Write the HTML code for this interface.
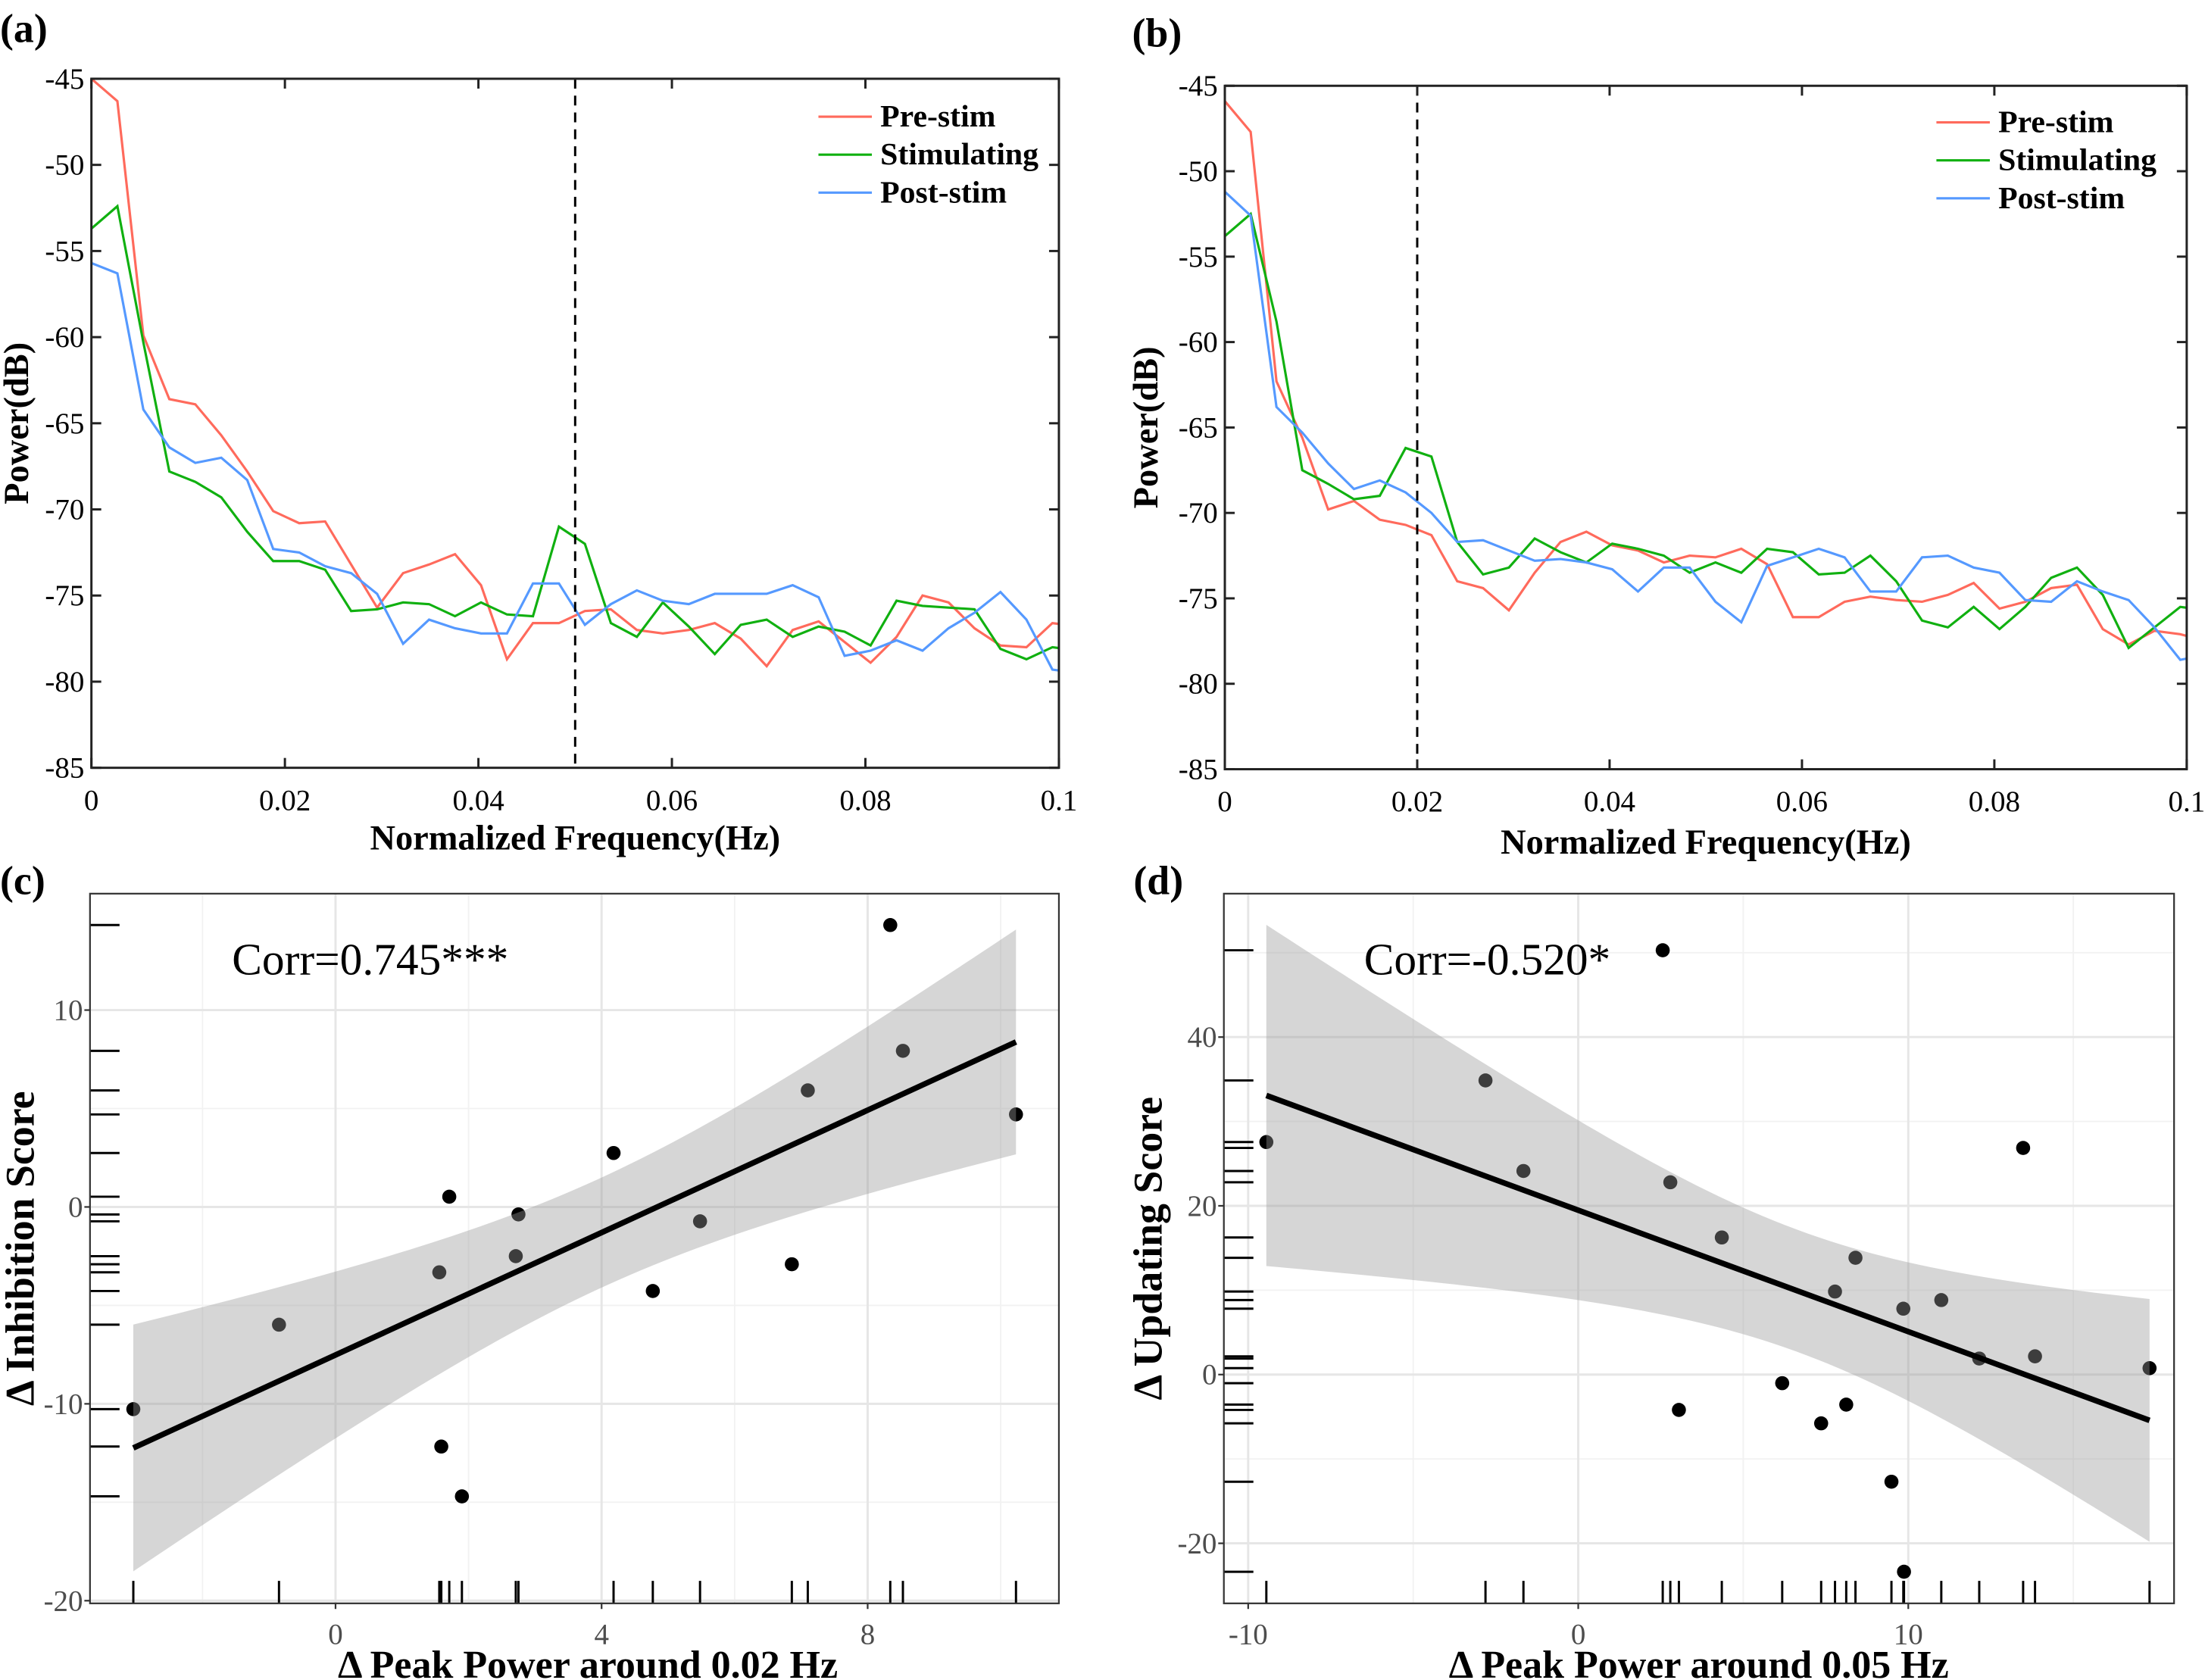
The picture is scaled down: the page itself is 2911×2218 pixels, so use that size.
<!DOCTYPE html>
<html><head><meta charset="utf-8"><style>
html,body{margin:0;padding:0;background:#fff;}
svg{display:block;}
text{font-family:"Liberation Serif",serif;}
</style></head><body>
<svg id="fig" width="2911" height="2218" viewBox="0 0 1568 1194.7" preserveAspectRatio="none" xmlns="http://www.w3.org/2000/svg">
<rect x="0" y="0" width="1568" height="1195" fill="#fff"/>
<text x="0" y="30" font-size="29" font-weight="bold">(a)</text>
<text x="805" y="33" font-size="29" font-weight="bold">(b)</text>
<text x="0" y="636" font-size="29" font-weight="bold">(c)</text>
<text x="806" y="636" font-size="29" font-weight="bold">(d)</text>
</svg>
<script>
const NS='http://www.w3.org/2000/svg';
const svg=document.getElementById('fig');
// ---- data: panel (a) ----
const freqStep=0.1/37.25;
const aPre=[-45,-46.3,-59.9,-63.6,-63.9,-65.7,-67.8,-70.1,-70.8,-70.7,-73.2,-75.7,-73.7,-73.2,-72.6,-74.4,-78.7,-76.6,-76.6,-75.9,-75.8,-77.0,-77.2,-77.0,-76.6,-77.5,-79.1,-77.0,-76.5,-77.7,-78.9,-77.4,-75.0,-75.4,-76.9,-77.9,-78.0,-76.6,-76.8];
const aStim=[-53.7,-52.4,-60.3,-67.8,-68.4,-69.3,-71.3,-73.0,-73.0,-73.5,-75.9,-75.8,-75.4,-75.5,-76.2,-75.4,-76.1,-76.2,-71.0,-72.0,-76.6,-77.4,-75.4,-76.8,-78.4,-76.7,-76.4,-77.4,-76.8,-77.1,-77.9,-75.3,-75.6,-75.7,-75.8,-78.1,-78.7,-78.0,-78.2];
const aPost=[-55.7,-56.3,-64.2,-66.4,-67.3,-67.0,-68.3,-72.3,-72.5,-73.3,-73.7,-74.9,-77.8,-76.4,-76.9,-77.2,-77.2,-74.3,-74.3,-76.7,-75.5,-74.7,-75.3,-75.5,-74.9,-74.9,-74.9,-74.4,-75.1,-78.5,-78.2,-77.6,-78.2,-76.9,-76.0,-74.8,-76.4,-79.3,-79.5];
// ---- data: panel (b) ----
const bPre=[-45.9,-47.7,-62.3,-65.6,-69.8,-69.3,-70.4,-70.7,-71.3,-74.0,-74.4,-75.7,-73.5,-71.7,-71.1,-71.9,-72.2,-72.9,-72.5,-72.6,-72.1,-73.0,-76.1,-76.1,-75.2,-74.9,-75.1,-75.2,-74.8,-74.1,-75.6,-75.2,-74.4,-74.2,-76.8,-77.7,-76.9,-77.1,-77.5];
const bStim=[-53.8,-52.5,-58.8,-67.5,-68.3,-69.2,-69.0,-66.2,-66.7,-71.7,-73.6,-73.2,-71.5,-72.3,-72.9,-71.8,-72.1,-72.5,-73.5,-72.9,-73.5,-72.1,-72.3,-73.6,-73.5,-72.5,-74.0,-76.3,-76.7,-75.5,-76.8,-75.5,-73.8,-73.2,-74.8,-77.9,-76.7,-75.5,-75.7];
const bPost=[-51.2,-52.6,-63.8,-65.3,-67.1,-68.6,-68.1,-68.8,-70.0,-71.7,-71.6,-72.2,-72.8,-72.7,-72.9,-73.3,-74.6,-73.2,-73.2,-75.2,-76.4,-73.1,-72.6,-72.1,-72.6,-74.6,-74.6,-72.6,-72.5,-73.2,-73.5,-75.1,-75.2,-74.0,-74.6,-75.1,-76.7,-78.6,-78.3];
const psdYTicks=[-45,-50,-55,-60,-65,-70,-75,-80,-85];
const psdXTicks=[0,0.02,0.04,0.06,0.08,0.1];
const psdXLabels=['0','0.02','0.04','0.06','0.08','0.1'];
const legendNames=['Pre-stim','Stimulating','Post-stim'];
// ---- data: panel (c) ----
const cX=[-3.04,-0.85,1.56,1.59,1.71,1.90,2.71,2.75,4.18,4.77,5.48,6.86,7.10,8.34,8.53,10.23];
const cY=[-10.27,-5.98,-3.32,-12.17,0.52,-14.7,-2.5,-0.38,2.74,-4.27,-0.73,-2.91,5.92,14.32,7.93,4.70];
const cXTicks=[0,4,8];
const cYTicks=[10,0,-10,-20];
const cXMinor=[-2,2,6,10];
const cYMinor=[5,-5,-15];
// ---- data: panel (d) ----
const dX=[-9.45,-2.81,-1.66,2.56,2.79,3.05,4.35,6.18,7.36,7.78,8.12,8.40,9.49,9.85,9.87,11.0,12.15,13.48,13.84,17.31];
const dY=[27.56,34.86,24.13,50.29,22.79,-4.19,16.25,-1.02,-5.78,9.84,-3.56,13.84,-12.70,7.81,-23.37,8.83,1.90,26.86,2.16,0.76];
const dXTicks=[-10,0,10];
const dYTicks=[40,20,0,-20];
const dXMinor=[-5,5,15];
const dYMinor=[50,30,10,-10];

function el(tag,parent){const e=document.createElementNS(NS,tag);(parent||svg).appendChild(e);return e;}
function set(e,o){for(const k in o)e.setAttribute(k,o[k]);return e;}

function psdPanel(id,box,dashX,series,legY,titleX,titleY,yTitleX){
  const g=el('g');
  
  
  const sx=v=>box.x0+(v-0)/(0.1)*(box.x1-box.x0);
  const sy=v=>box.y0+(-45-v)/40*(box.y1-box.y0);
  const cid='clip'+id;
  const cp=el('clipPath',g);set(cp,{id:cid});
  set(el('rect',cp),{x:box.x0,y:box.y0,width:box.x1-box.x0,height:box.y1-box.y0});
  const colors=['#ff6a5c','#10b010','#5599ff'];
  series.forEach((s,i)=>{
    const p=el('polyline',g);
    
    
    set(p,{points:s.map((v,j)=>sx(j*freqStep).toFixed(2)+','+sy(v).toFixed(2)).join(' '),fill:'none',stroke:colors[i],'stroke-width':1.7,'clip-path':'url(#'+cid+')'});
  });
  const dl=el('line',g);
  
  
  set(dl,{x1:sx(dashX),x2:sx(dashX),y1:box.y0,y2:box.y1,stroke:'#000','stroke-width':1.6,'stroke-dasharray':'7,5'});
  const fr=el('rect',g);
  
  
  set(fr,{x:box.x0,y:box.y0,width:box.x1-box.x0,height:box.y1-box.y0,fill:'none',stroke:'#222','stroke-width':1.6});
  psdYTicks.forEach(v=>{
    const y=sy(v);
    set(el('line',g),{x1:box.x0,x2:box.x0+7,y1:y,y2:y,stroke:'#222','stroke-width':1.6});
    set(el('line',g),{x1:box.x1,x2:box.x1-7,y1:y,y2:y,stroke:'#222','stroke-width':1.6});
    const t=el('text',g);
    
    
    set(t,{x:box.x0-5,y:y+7,'text-anchor':'end','font-size':21});t.textContent=v;
  });
  psdXTicks.forEach((v,i)=>{
    const x=sx(v);
    set(el('line',g),{x1:x,x2:x,y1:box.y1,y2:box.y1-7,stroke:'#222','stroke-width':1.6});
    set(el('line',g),{x1:x,x2:x,y1:box.y0,y2:box.y0+7,stroke:'#222','stroke-width':1.6});
    const t=el('text',g);
    
    
    set(t,{x:x,y:box.y1+30,'text-anchor':'middle','font-size':21});t.textContent=psdXLabels[i];
  });
  legendNames.forEach((n,i)=>{
    const y=legY+i*27;
    const ln=el('line',g);
    
    
    set(ln,{x1:legY===83?582:1377,x2:legY===83?620:1415,y1:y,y2:y,stroke:colors[i],'stroke-width':1.7});
    const t=el('text',g);
    
    
    set(t,{x:legY===83?626:1421,y:y+7,'font-size':22.5,'font-weight':'bold'});t.textContent=n;
  });
  const xt=el('text',g);
  
  
  set(xt,{x:titleX,y:titleY,'text-anchor':'middle','font-size':25,'font-weight':'bold'});xt.textContent='Normalized Frequency(Hz)';
  const yt=el('text',g);
  
  
  const cy=(box.y0+box.y1)/2;
  set(yt,{x:yTitleX,y:cy,'text-anchor':'middle','font-size':25,'font-weight':'bold',transform:'rotate(-90 '+yTitleX+' '+cy+')'});yt.textContent='Power(dB)';
}
psdPanel('a',{x0:65,x1:753,y0:56,y1:546},0.05,[aPre,aStim,aPost],83,409,604,20);
psdPanel('b',{x0:871,x1:1555,y0:61,y1:547},0.02,[bPre,bStim,bPost],87,1213,607,823);

function scatterPanel(id,box,xs,ys,xMap,yMap,xTicks,yTicks,xMinor,yMinor,tval,corr,corrPos,xTitle,yTitle,xTitleX,yTitleX){
  const g=el('g');
  
  
  const sx=v=>xMap.o+v*xMap.k, sy=v=>yMap.o-v*yMap.k;
  xMinor.forEach(v=>set(el('line',g),{x1:sx(v),x2:sx(v),y1:box.y0,y2:box.y1,stroke:'#f2f2f2','stroke-width':1}));
  yMinor.forEach(v=>set(el('line',g),{x1:box.x0,x2:box.x1,y1:sy(v),y2:sy(v),stroke:'#f2f2f2','stroke-width':1}));
  xTicks.forEach(v=>set(el('line',g),{x1:sx(v),x2:sx(v),y1:box.y0,y2:box.y1,stroke:'#e6e6e6','stroke-width':1.6}));
  yTicks.forEach(v=>set(el('line',g),{x1:box.x0,x2:box.x1,y1:sy(v),y2:sy(v),stroke:'#e6e6e6','stroke-width':1.6}));
  const n=xs.length, mx=xs.reduce((a,b)=>a+b)/n, my=ys.reduce((a,b)=>a+b)/n;
  let sxx=0,sxy=0;xs.forEach((x,i)=>{sxx+=(x-mx)**2;sxy+=(x-mx)*(ys[i]-my);});
  const b=sxy/sxx,a=my-b*mx;
  let sse=0;xs.forEach((x,i)=>{sse+=(ys[i]-a-b*x)**2;});
  const s=Math.sqrt(sse/(n-2));
  const xmin=Math.min(...xs),xmax=Math.max(...xs);
  const up=[],lo=[];
  for(let i=0;i<=80;i++){const x=xmin+(xmax-xmin)*i/80;const yh=a+b*x;const se=tval*s*Math.sqrt(1/n+(x-mx)**2/sxx);
    up.push(sx(x).toFixed(2)+','+sy(yh+se).toFixed(2));lo.unshift(sx(x).toFixed(2)+','+sy(yh-se).toFixed(2));}
  xs.forEach((x,i)=>{
    const c=el('circle',g);
    
    
    set(c,{cx:sx(x),cy:sy(ys[i]),r:5,fill:'#000'});
  });
  const band=el('polygon',g);
  
  
  set(band,{points:up.concat(lo).join(' '),fill:'#999','fill-opacity':0.4});
  const rl=el('line',g);
  
  
  set(rl,{x1:sx(xmin),y1:sy(a+b*xmin),x2:sx(xmax),y2:sy(a+b*xmax),stroke:'#000','stroke-width':4});
  xs.forEach(x=>{
    const r=el('line',g);
    
    
    set(r,{x1:sx(x),x2:sx(x),y1:box.y1,y2:box.y1-16,stroke:'#000','stroke-width':1.6});
  });
  ys.forEach(y=>{
    const r=el('line',g);
    
    
    set(r,{x1:box.x0,x2:box.x0+21,y1:sy(y),y2:sy(y),stroke:'#000','stroke-width':1.6});
  });
  const fr=el('rect',g);
  
  
  set(fr,{x:box.x0,y:box.y0,width:box.x1-box.x0,height:box.y1-box.y0,fill:'none',stroke:'#333','stroke-width':1.2});
  xTicks.forEach(v=>{
    set(el('line',g),{x1:sx(v),x2:sx(v),y1:box.y1,y2:box.y1+4,stroke:'#333','stroke-width':1.2});
    const t=el('text',g);
    
    
    set(t,{x:sx(v),y:box.y1+29,'text-anchor':'middle','font-size':21,fill:'#4d4d4d'});t.textContent=v;
  });
  yTicks.forEach(v=>{
    set(el('line',g),{x1:box.x0-4,x2:box.x0,y1:sy(v),y2:sy(v),stroke:'#333','stroke-width':1.2});
    const t=el('text',g);
    
    
    set(t,{x:box.x0-5,y:sy(v)+7,'text-anchor':'end','font-size':21,fill:'#4d4d4d'});t.textContent=v;
  });
  const ct=el('text',g);
  
  
  set(ct,{x:corrPos[0],y:corrPos[1],'font-size':32});ct.textContent=corr;
  const xt=el('text',g);
  
  
  set(xt,{x:xTitleX,y:1193,'text-anchor':'middle','font-size':28,'font-weight':'bold'});xt.textContent=xTitle;
  const yt=el('text',g);
  
  
  const cy=(box.y0+box.y1)/2;
  set(yt,{x:yTitleX,y:cy,'text-anchor':'middle','font-size':29,'font-weight':'bold',transform:'rotate(-90 '+yTitleX+' '+cy+')'});yt.textContent=yTitle;
}
scatterPanel('c',{x0:64,x1:753,y0:635.5,y1:1140.2},cX,cY,{o:238.6,k:47.3},{o:858.3,k:14.0},cXTicks,cYTicks,cXMinor,cYMinor,2.145,'Corr=0.745***',[165,693],'Δ Peak Power around 0.02 Hz','Δ Inhibition Score',418,24);
scatterPanel('d',{x0:870.3,x1:1546,y0:635.5,y1:1140.2},dX,dY,{o:1122.3,k:23.47},{o:977.5,k:6.0},dXTicks,dYTicks,dXMinor,dYMinor,2.101,'Corr=-0.520*',[970,693],'Δ Peak Power around 0.05 Hz','Δ Updating Score',1208,826);
</script>
</body></html>
